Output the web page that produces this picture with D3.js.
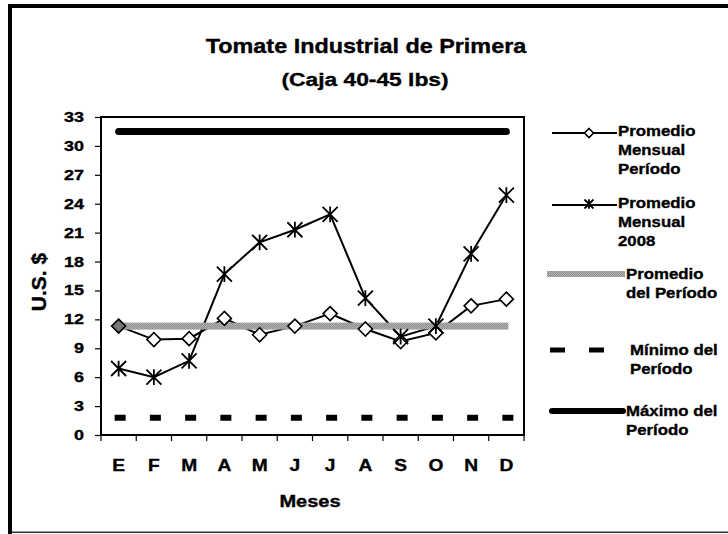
<!DOCTYPE html>
<html>
<head>
<meta charset="utf-8">
<script src="https://cdn.jsdelivr.net/npm/d3@7/dist/d3.min.js"></script>
<style>
  html, body { margin: 0; padding: 0; background: #fff; }
  svg text { font-family: Arial, "Liberation Sans", sans-serif; font-weight: bold; fill: #000;
             stroke: #000; stroke-width: 0.35px; }
</style>
</head>
<body>
<svg id="chart" width="728" height="534"></svg>
<script>
// Monthly price data, tomato (box 40-45 lbs), US$
const months = ["E", "F", "M", "A", "M", "J", "J", "A", "S", "O", "N", "D"];
const periodMonthly = [11.3, 9.9, 10.0, 12.1, 10.4, 11.3, 12.6, 11.0, 9.7, 10.6, 13.4, 14.1];
const monthly2008 = [6.9, 6.0, 7.7, 16.7, 20.0, 21.3, 22.9, 14.2, 10.2, 11.3, 18.8, 24.9];
const periodAverage = 11.3;
const periodMinimum = 1.8;
const periodMaximum = 31.5;
const yTicks = [0, 3, 6, 9, 12, 15, 18, 21, 24, 27, 30, 33];
const legendItems = [
  { key: "avgMonth", lines: ["Promedio", "Mensual", "Período"] },
  { key: "m2008", lines: ["Promedio", "Mensual", "2008"] },
  { key: "avg", lines: ["Promedio", "del Período"] },
  { key: "min", lines: ["Mínimo del", "Período"] },
  { key: "max", lines: ["Máximo del", "Período"] }
];

const svg = d3.select("#chart");
const SX = 1.17; // horizontal text stretch

function label(g, x, y, str, size, anchor, sx) {
  const s = sx == null ? SX : sx;
  return g.append("text")
    .attr("transform", `translate(${x},${y}) scale(${s},1)`)
    .attr("text-anchor", anchor || "start")
    .attr("dominant-baseline", "central")
    .style("font-size", size + "px")
    .text(str);
}

// Outer frame
svg.append("rect").attr("x", 8).attr("y", 4).attr("width", 720).attr("height", 4).attr("fill", "#000");
svg.append("rect").attr("x", 8).attr("y", 4).attr("width", 4).attr("height", 530).attr("fill", "#000");
svg.append("rect").attr("x", 12).attr("y", 531.5).attr("width", 716).attr("height", 1.5).attr("fill", "#333");

// Titles
label(svg, 366, 46, "Tomate Industrial de Primera", 20, "middle");
label(svg, 365, 79, "(Caja 40-45 lbs)", 19, "middle", 1.2);

// Plot area
const plot = { left: 101, right: 524, top: 117, bottom: 435 };
const x = d3.scaleBand().domain(d3.range(months.length)).range([plot.left, plot.right]);
const y = d3.scaleLinear().domain([0, 33]).range([plot.bottom, plot.top]);
const cx = i => x(i) + x.bandwidth() / 2;

// Grey textured fill for the period average
const defs = svg.append("defs");
const pat = defs.append("pattern").attr("id", "grain").attr("width", 2).attr("height", 2)
  .attr("patternUnits", "userSpaceOnUse");
pat.append("rect").attr("width", 2).attr("height", 2).attr("fill", "#b4b4b4");
pat.append("rect").attr("width", 1).attr("height", 1).attr("fill", "#8c8c8c");
pat.append("rect").attr("x", 1).attr("y", 1).attr("width", 1).attr("height", 1).attr("fill", "#8c8c8c");

// Axes
const yAxis = svg.append("g").attr("transform", `translate(${plot.left},0)`)
  .call(d3.axisLeft(y).tickValues(yTicks).tickSize(6).tickPadding(12).tickFormat(d3.format("d")));
yAxis.select(".domain").remove();
yAxis.selectAll(".tick line").attr("stroke", "#000").attr("stroke-width", 1.2);
yAxis.selectAll(".tick text").remove();
yTicks.forEach(t => label(svg, 84, y(t), String(t), 15, "end", 1.2));

const xAxis = svg.append("g").attr("transform", `translate(0,${plot.bottom})`);
d3.range(months.length + 1).forEach(i => {
  const xx = plot.left + i * x.step();
  xAxis.append("line").attr("x1", xx).attr("x2", xx).attr("y1", 0).attr("y2", 6)
    .attr("stroke", "#000").attr("stroke-width", 1.2);
});
months.forEach((m, i) => label(svg, cx(i), 466, m, 16, "middle", 1.2));

svg.append("rect").attr("x", plot.left).attr("y", plot.top)
  .attr("width", plot.right - plot.left).attr("height", plot.bottom - plot.top)
  .attr("fill", "none").attr("stroke", "#000").attr("stroke-width", 2);

// Axis titles
label(svg, 310, 502, "Meses", 16, "middle", 1.25);
svg.append("text")
  .attr("transform", `translate(38,282) rotate(-90)`)
  .attr("text-anchor", "middle").attr("dominant-baseline", "central")
  .style("font-size", "21px").text("U.S. $");

// Series
const line = d3.line().x((d, i) => cx(i)).y(d => y(d));

// Maximum of the period
svg.append("path")
  .attr("d", d3.line()([[cx(0), y(periodMaximum)], [cx(11), y(periodMaximum)]]))
  .attr("stroke", "#000").attr("stroke-width", 7).attr("stroke-linecap", "round").attr("fill", "none");

// Minimum of the period (dashed)
const dashLen = 11;
svg.append("path")
  .attr("d", d3.line()([[cx(0) - 4, y(periodMinimum)], [cx(11) + 8, y(periodMinimum)]]))
  .attr("stroke", "#000").attr("stroke-width", 6)
  .attr("stroke-dasharray", `${dashLen},${x.step() - dashLen}`).attr("fill", "none");

// Monthly average of the period
svg.append("path").datum(periodMonthly).attr("d", line)
  .attr("stroke", "#000").attr("stroke-width", 2).attr("fill", "none");
// Monthly average 2008
svg.append("path").datum(monthly2008).attr("d", line)
  .attr("stroke", "#000").attr("stroke-width", 2).attr("fill", "none");

// Period average band
svg.append("rect")
  .attr("x", cx(0) - 2).attr("y", y(periodAverage) - 3.5)
  .attr("width", cx(11) - cx(0) + 4).attr("height", 7)
  .attr("fill", "url(#grain)");

function diamond(g, px, py, r, fill) {
  g.append("path")
    .attr("d", `M${px},${py - r}L${px + r},${py}L${px},${py + r}L${px - r},${py}Z`)
    .attr("fill", fill || "#fff").attr("stroke", "#000").attr("stroke-width", 1.6);
}
function star(g, px, py, r) {
  const p = d3.path();
  p.moveTo(px - r, py - r); p.lineTo(px + r, py + r);
  p.moveTo(px - r, py + r); p.lineTo(px + r, py - r);
  p.moveTo(px, py - r * 1.05); p.lineTo(px, py + r * 1.05);
  g.append("path").attr("d", p.toString()).attr("stroke", "#000").attr("stroke-width", 1.8).attr("fill", "none");
}

const markers = svg.append("g");
periodMonthly.forEach((v, i) => diamond(markers, cx(i), y(v), 7, i === 0 ? "#777" : "#fff"));
monthly2008.forEach((v, i) => star(markers, cx(i), y(v), 7.5));

// Legend
const lg = svg.append("g");
const lh = 19;
const entryY = [131, 203, 274, 350, 411];
const textX = [618, 618, 626, 630, 626];
legendItems.forEach((item, k) => {
  const yy = entryY[k];
  if (item.key === "avgMonth" || item.key === "m2008") {
    lg.append("line").attr("x1", 552).attr("x2", 617).attr("y1", yy + 2).attr("y2", yy + 2)
      .attr("stroke", "#000").attr("stroke-width", 2);
    if (item.key === "avgMonth") diamond(lg, 589, yy + 2, 4.5);
    else star(lg, 589, yy + 1, 4.5);
  } else if (item.key === "avg") {
    lg.append("rect").attr("x", 547).attr("y", yy - 3).attr("width", 78).attr("height", 6)
      .attr("fill", "url(#grain)");
  } else if (item.key === "min") {
    lg.append("path").attr("d", d3.line()([[550, yy], [604, yy]]))
      .attr("stroke", "#000").attr("stroke-width", 5).attr("stroke-dasharray", "15,24").attr("fill", "none");
  } else {
    lg.append("path").attr("d", d3.line()([[552, yy], [623, yy]]))
      .attr("stroke", "#000").attr("stroke-width", 6).attr("stroke-linecap", "round").attr("fill", "none");
  }
  item.lines.forEach((t, j) => label(lg, textX[k], yy + j * lh, t, 15, "start", 1.12));
});
</script>
</body>
</html>
